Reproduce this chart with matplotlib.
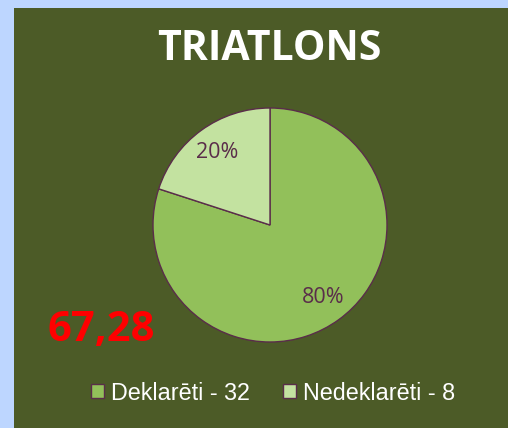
import matplotlib
matplotlib.use("Agg")
import matplotlib.pyplot as plt
from matplotlib.patches import Rectangle

# ---- 資料 ----
labels = ["Deklarēti - 32", "Nedeklarēti - 8"]
values = [32, 8]
title = "TRIATLONS"
score = "67,28"

# ---- 配色 ----
BORDER, BG = "#bdd6ff", "#4c5b27"
SLICES = ["#92c05a", "#c3e2a0"]
EDGE, PCT = "#5a2d4a", "#5a2d4a"

W, H = 508, 428
fig = plt.figure(figsize=(W / 100, H / 100), dpi=100)
fig.patch.set_facecolor(BORDER)
fig.patches.append(Rectangle((14 / W, 0), 1 - 14 / W, 1 - 8 / H, transform=fig.transFigure,
                             facecolor=BG, edgecolor="none", zorder=-10))

# pie: 中心 (270, 225) px, 半徑 117 px
cx, cy, r = 270, 225, 117
ax = fig.add_axes([(cx - r) / W, (H - cy - r) / H, 2 * r / W, 2 * r / H], zorder=2)
wedges, _, autotexts = ax.pie(values, colors=SLICES, startangle=90, counterclock=False,
                              autopct="%1.0f%%", pctdistance=0.77,
                              wedgeprops=dict(edgecolor=EDGE, linewidth=1.0, clip_on=False),
                              textprops=dict(color=PCT, fontsize=15.5, family="Open Sans"))
ax.set_xlim(-1, 1)
ax.set_ylim(-1, 1)
ax.set_aspect("equal")
ax.axis("off")

fig.text(269 / W, 1 - 50 / H, title, ha="center", va="center", color="white",
         fontsize=29.5, fontweight="bold", family="Open Sans")
fig.text(101 / W, 1 - 330 / H, score, ha="center", va="center", color="#ff0000",
         fontsize=30, fontweight="bold", family="Open Sans", zorder=5)

lg = fig.legend(wedges, labels, loc="center", bbox_to_anchor=(273 / W, 1 - 393 / H), ncol=2,
                frameon=False, handlelength=0.55, handleheight=0.55, handletextpad=0.3,
                columnspacing=1.45, prop=dict(family="Liberation Sans", size=16.8))
for t in lg.get_texts():
    t.set_color("white")

fig.savefig("out.png", dpi=100, facecolor=BORDER)
